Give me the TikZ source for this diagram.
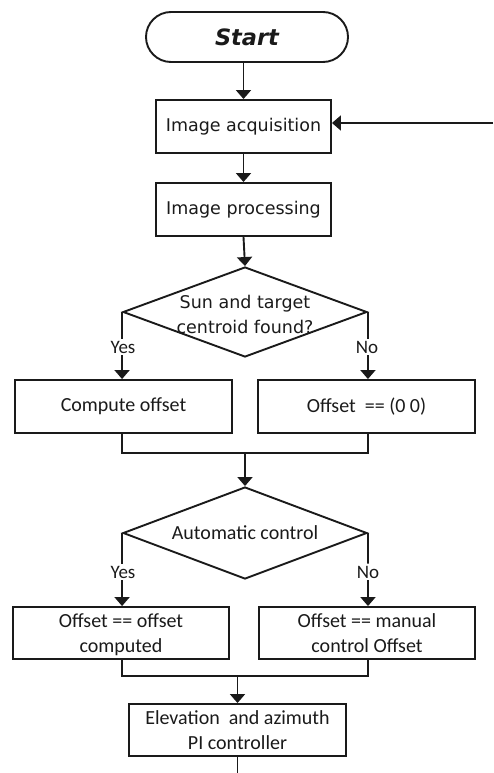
\documentclass[tikz,border=0pt]{standalone}
\usepackage{fontspec}
\setmainfont{DejaVu Sans}
\newfontfamily\calfont{Carlito}
\usetikzlibrary{shapes.geometric,arrows.meta}
\definecolor{ink}{HTML}{1A1A1A}
\tikzset{
  stroke/.style={draw=ink, line width=1.9pt},
  flow/.style={stroke, -{Triangle[width=15pt,length=9pt]}},
  plain/.style={stroke},
  boxtop/.style={stroke, rectangle, inner sep=0pt, minimum width=175pt, minimum height=53pt,
    font=\fontsize{17.5}{25}\selectfont, text=ink, align=center},
  boxlow/.style={stroke, rectangle, inner sep=0pt, minimum width=217pt, minimum height=53pt,
    font=\calfont\fontsize{20}{25}\selectfont, text=ink, align=center},
  twoline/.style={text depth=0pt, yshift=0pt},
  decision/.style={stroke, diamond, inner sep=0pt, minimum width=244pt, minimum height=90pt},
  answer/.style={inner sep=2pt, font=\calfont\fontsize{19}{22}\selectfont, text=ink},
  terminal/.style={stroke, rectangle, rounded corners=25pt, minimum width=202pt, minimum height=50pt,
    font=\bfseries\itshape\fontsize{22.5}{26}\selectfont, text=ink},
}
\begin{document}
\begin{tikzpicture}[x=1pt, y=-1pt]
  \useasboundingbox (0,0) rectangle (493,773);

  % main chain
  \node[terminal] (start) at (247,37) {Start};
  \node[boxtop] (acq) at (243.5,126.5) {Image acquisition};
  \node[boxtop] (proc) at (243.5,209.5) {Image processing};
  \node[decision, label={[font=\fontsize{17.5}{25}\selectfont, text=ink, align=center, yshift=-2pt]center:Sun and target\\centroid found?}] (d1) at (245,312) {};

  \node[answer] (yes1) at (123,347) {Yes};
  \node[answer] (no1) at (367,347) {No};
  \node[boxlow] (comp) at (123.5,406.5) {Compute offset};
  \node[boxlow] (zero) at (366.5,406.5) {Offset\ \ == (0 0)};

  \coordinate (m1) at (245,453);
  \node[decision, minimum height=92pt, label={[font=\calfont\fontsize{20}{25}\selectfont, text=ink]center:Automatic control}] (d2) at (245,533) {};

  \node[answer] (yes2) at (123,572) {Yes};
  \node[answer] (no2) at (368,572) {No};
  \node[boxlow, minimum width=216pt, minimum height=52pt, text depth=0pt] (auto) at (121,633) {Offset == offset\\computed};
  \node[boxlow, minimum width=216pt, minimum height=52pt, text depth=0pt] (man) at (367,633) {Offset == manual\\control Offset};

  \coordinate (m2) at (237.5,676);
  \node[boxlow, minimum height=52pt, text depth=0pt] (pi) at (237.5,730) {Elevation\ \ and azimuth\\PI controller};
  \coordinate (out) at (237.5,773);
  \coordinate (fb) at (493,123);

  % connectors
  \draw[flow] (start.south -| acq.north) -- (acq.north);
  \draw[flow] (fb) -- (fb -| acq.east);
  \draw[flow] (acq.south) -- (proc.north);
  \draw[flow] (proc.south) -- (d1.north);

  \draw[plain] (d1.west) -- (yes1.north -| d1.west);
  \draw[flow] (yes1.south -| d1.west) -- (comp.north -| d1.west);
  \draw[plain] (d1.east) -- (no1.north -| d1.east);
  \draw[flow] (no1.south -| d1.east) -- (zero.north -| d1.east);

  \draw[plain] (comp.south -| d1.west) -- (m1 -| d1.west) -- (m1 -| d1.east) -- (zero.south -| d1.east);
  \draw[flow] (m1) -- (d2.north);

  \draw[plain] (d2.west) -- (yes2.north -| d2.west);
  \draw[flow] (yes2.south -| d2.west) -- (auto.north -| d2.west);
  \draw[plain] (d2.east) -- (no2.north -| no2);
  \draw[flow] (no2.south) -- (man.north -| no2);

  \draw[plain] (auto.south -| 122,0) -- (m2 -| 122,0) -- (m2 -| no2) -- (man.south -| no2);
  \draw[flow] (m2) -- (pi.north);
  \draw[plain] (pi.south) -- (out);
\end{tikzpicture}
\end{document}
